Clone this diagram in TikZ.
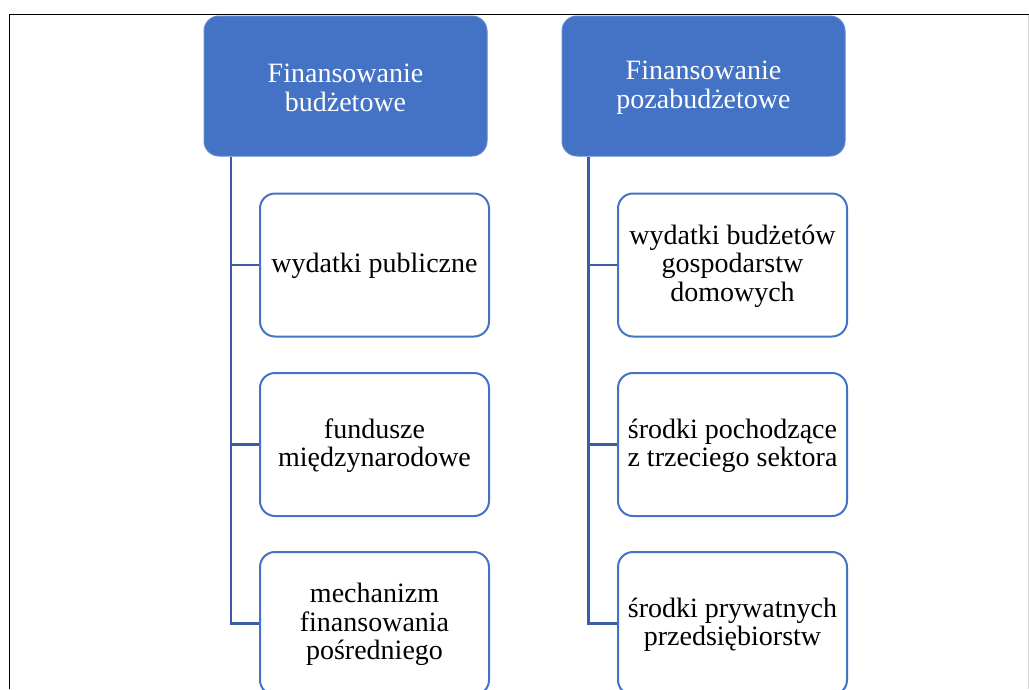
\documentclass[tikz,border=0pt]{standalone}
\usepackage{fontspec}
\setmainfont{Liberation Serif}
\definecolor{hdrblue}{HTML}{4472C4}
\definecolor{linkblue}{HTML}{3A5DA6}
\tikzset{
  header/.style={draw=hdrblue!85!white, line width=1pt, fill=hdrblue, rounded corners=15pt,
    minimum width=283pt, minimum height=140pt, inner sep=0pt, align=center, text=white,
    font=\fontsize{28}{29}\selectfont},
  child/.style={draw=hdrblue, line width=2pt, fill=white, rounded corners=15pt,
    minimum width=229pt, minimum height=143pt, inner sep=0pt, align=center, text=black,
    font=\fontsize{28}{28.5}\selectfont},
  link/.style={draw=linkblue, line width=2.6pt},
  frame/.style={draw=black, line width=1.3pt}
}
\begin{document}
\begin{tikzpicture}[x=1pt,y=-1pt]
\useasboundingbox (0,0) rectangle (1029,689);
\clip (0,0) rectangle (1029,689);
% frame
\coordinate (fbl) at (9.5,689);
\coordinate (ftl) at (9.5,14.5);
\coordinate (ftr) at (1029,14.5);
\draw[frame] (fbl) -- (ftl) -- (ftr);
\coordinate (frt) at (1028,14.5);
\coordinate (frb) at (1028,689);
\draw[draw=black!15, line width=0.8pt] (frt) -- (frb);
% headers
\node[header] (hL) at (345.5,86) {\rule{0pt}{22pt}Finansowanie\\budżetowe};
\node[header] (hR) at (703.5,86) {\rule{0pt}{22pt}Finansowanie\\pozabudżetowe};
% children left
\node[child] (l1) at (374.5,265) {\rule{0pt}{22pt}wydatki publiczne};
\node[child] (l2) at (374.5,444.5) {\rule{0pt}{22pt}fundusze\\międzynarodowe};
\node[child] (l3) at (374.5,623.5) {\rule{0pt}{22pt}mechanizm\\finansowania\\pośredniego};
% children right
\node[child] (r1) at (732.5,265) {\rule{0pt}{22pt}wydatki budżetów\\gospodarstw\\domowych};
\node[child] (r2) at (732.5,444.5) {\rule{0pt}{22pt}środki pochodzące\\z trzeciego sektora};
\node[child] (r3) at (732.5,623.5) {\rule{0pt}{22pt}środki prywatnych\\przedsiębiorstw};
% connectors
\coordinate (cL) at ([xshift=27.5pt]hL.south west);
\coordinate (cR) at ([xshift=27pt]hR.south west);
\draw[link] (cL) |- (l3.west);
\draw[link] (cL |- l1.west) -- (l1.west);
\draw[link] (cL |- l2.west) -- (l2.west);
\draw[link] (cR) |- (r3.west);
\draw[link] (cR |- r1.west) -- (r1.west);
\draw[link] (cR |- r2.west) -- (r2.west);
\end{tikzpicture}
\end{document}
